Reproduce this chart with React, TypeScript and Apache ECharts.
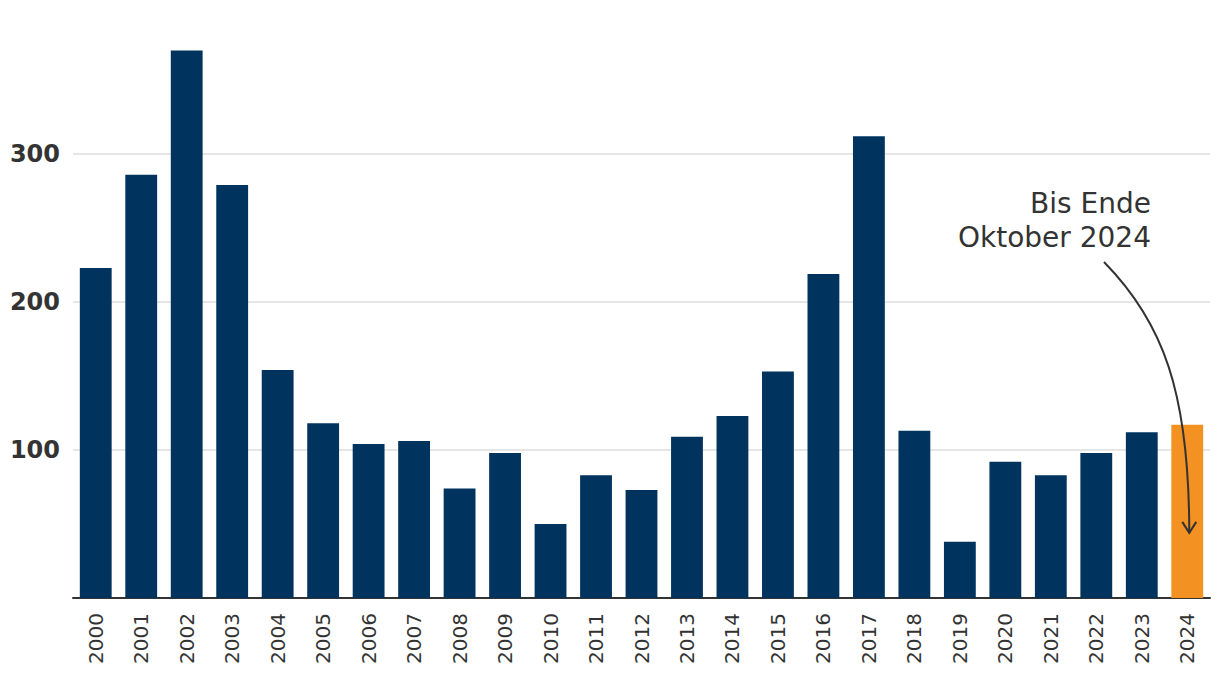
import React, { useEffect, useRef } from "react";
import * as echarts from "echarts";

const years = [
  "2000", "2001", "2002", "2003", "2004", "2005", "2006", "2007", "2008", "2009",
  "2010", "2011", "2012", "2013", "2014", "2015", "2016", "2017", "2018", "2019",
  "2020", "2021", "2022", "2023", "2024",
];
const values = [
  223, 286, 370, 279, 154, 118, 104, 106, 74, 98,
  50, 83, 73, 109, 123, 153, 219, 312, 113, 38,
  92, 83, 98, 112, 117,
];
const highlightYear = "2024";
const annotationLines = ["Bis Ende", "Oktober 2024"];

const NAVY = "#00345f";
const ORANGE = "#f39123";
const FONT = "DejaVu Sans";

export default function App() {
  const ref = useRef<HTMLDivElement>(null);
  useEffect(() => {
    document.body.style.margin = "0";
    if (!ref.current) return;
    const chart = echarts.init(ref.current, undefined, { renderer: "svg" });
    chart.setOption({
      animation: false,
      grid: { left: 73, right: 10, top: 6, bottom: 92, containLabel: false },
      xAxis: {
        type: "category",
        data: years,
        axisLine: { show: true, lineStyle: { color: "#333", width: 2 } },
        axisTick: { show: false },
        axisLabel: {
          rotate: 90,
          margin: 15,
          color: "#333",
          fontFamily: FONT,
          fontSize: 20,
        },
      },
      yAxis: {
        type: "value",
        min: 0,
        max: 400,
        interval: 100,
        axisLine: { show: false },
        axisTick: { show: false },
        axisLabel: {
          showMinLabel: false,
          showMaxLabel: false,
          margin: 13,
          color: "#333",
          fontFamily: FONT,
          fontSize: 24,
          fontWeight: "bold",
        },
        splitLine: {
          show: true,
          showMinLine: false,
          showMaxLine: false,
          lineStyle: { color: "#e6e6e6", width: 2 },
        },
      },
      series: [
        {
          type: "bar",
          barWidth: "70%",
          data: values.map((v, i) => ({
            value: v,
            itemStyle: { color: years[i] === highlightYear ? ORANGE : NAVY },
          })),
        },
      ],
    });

    const tip = chart.convertToPixel({ seriesIndex: 0 }, [highlightYear, 44]) as number[];
    const ex = tip[0] + 2;
    const ey = tip[1];
    const textStyle = {
      fontFamily: FONT,
      fontSize: 28,
      fill: "#333",
      align: "right",
      verticalAlign: "top",
    };
    chart.setOption({
      graphic: [
        {
          type: "text",
          x: 1151,
          y: 189,
          z: 100,
          style: { ...textStyle, text: annotationLines[0] },
        },
        {
          type: "text",
          x: 1151,
          y: 223,
          z: 100,
          style: { ...textStyle, text: annotationLines[1] },
        },
        {
          type: "bezierCurve",
          z: 100,
          shape: { x1: 1104, y1: 262, cpx1: 1163, cpy1: 322, cpx2: ex, cpy2: 392, x2: ex, y2: ey },
          style: { stroke: "#333", lineWidth: 2, fill: null },
        },
        {
          type: "polyline",
          z: 100,
          shape: { points: [[ex - 7, ey - 11], [ex, ey], [ex + 7, ey - 11]] },
          style: { stroke: "#333", lineWidth: 2, fill: null },
        },
      ],
    });
    return () => chart.dispose();
  }, []);
  return <div ref={ref} style={{ width: 1220, height: 690 }} />;
}
